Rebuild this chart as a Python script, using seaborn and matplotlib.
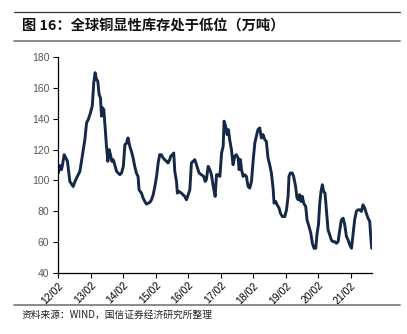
import matplotlib
matplotlib.use("Agg")
import matplotlib.pyplot as plt
from matplotlib.lines import Line2D
import seaborn as sns
import pandas as pd

dates = [
    "2012-02-01", "2012-02-19", "2012-03-08", "2012-03-19", "2012-04-07", "2012-04-26", "2012-05-14", "2012-05-29",
    "2012-06-10", "2012-06-28", "2012-07-17", "2012-08-05", "2012-08-24", "2012-09-12", "2012-10-01", "2012-10-19",
    "2012-11-08", "2012-11-26", "2012-12-15", "2013-01-03", "2013-01-22", "2013-02-17", "2013-03-06", "2013-03-21",
    "2013-04-05", "2013-04-20", "2013-05-05", "2013-05-20", "2013-06-01", "2013-06-12", "2013-06-27", "2013-07-12",
    "2013-07-27", "2013-08-11", "2013-08-26", "2013-09-10", "2013-09-25", "2013-10-10", "2013-10-28", "2013-11-17",
    "2013-12-05", "2013-12-24", "2014-01-12", "2014-02-01", "2014-02-19", "2014-03-08", "2014-03-26", "2014-04-15",
    "2014-05-03", "2014-05-22", "2014-06-10", "2014-06-28", "2014-07-17", "2014-07-28", "2014-08-24", "2014-09-12",
    "2014-10-01", "2014-10-19", "2014-11-08", "2014-11-26", "2014-12-15", "2015-01-03", "2015-01-22", "2015-02-10",
    "2015-02-28", "2015-03-17", "2015-04-05", "2015-04-24", "2015-05-12", "2015-06-01", "2015-06-19", "2015-07-08",
    "2015-07-19", "2015-08-07", "2015-08-22", "2015-09-03", "2015-09-22", "2015-10-02", "2015-10-21", "2015-11-17",
    "2015-12-05", "2015-12-24", "2016-01-12", "2016-02-01", "2016-02-19", "2016-03-08", "2016-03-26", "2016-04-15",
    "2016-05-03", "2016-06-02", "2016-06-27", "2016-07-24", "2016-08-09", "2016-08-23", "2016-09-12", "2016-10-01",
    "2016-10-19", "2016-11-08", "2016-11-30", "2016-12-15", "2017-01-03", "2017-01-22", "2017-02-10", "2017-02-28",
    "2017-03-10", "2017-03-28", "2017-04-13", "2017-04-28", "2017-05-12", "2017-06-01", "2017-06-19", "2017-07-08",
    "2017-07-26", "2017-08-15", "2017-08-26", "2017-09-10", "2017-09-22", "2017-10-10", "2017-10-28", "2017-11-16",
    "2017-12-05", "2017-12-24", "2018-01-12", "2018-02-01", "2018-02-19", "2018-03-08", "2018-03-26", "2018-04-15",
    "2018-05-03", "2018-05-22", "2018-06-10", "2018-06-28", "2018-07-17", "2018-08-05", "2018-08-24", "2018-09-12",
    "2018-09-23", "2018-10-12", "2018-10-27", "2018-11-19", "2018-12-03", "2018-12-26", "2019-01-22", "2019-02-10",
    "2019-02-28", "2019-03-10", "2019-03-25", "2019-04-16", "2019-05-01", "2019-05-23", "2019-06-08", "2019-06-23",
    "2019-07-08", "2019-07-22", "2019-08-07", "2019-08-22", "2019-09-14", "2019-09-29", "2019-10-21", "2019-11-10",
    "2019-11-28", "2019-12-16", "2020-01-05", "2020-01-20", "2020-02-04", "2020-02-19", "2020-03-04", "2020-03-19",
    "2020-04-03", "2020-04-18", "2020-05-03", "2020-05-22", "2020-06-10", "2020-06-28", "2020-07-16", "2020-08-05",
    "2020-08-24", "2020-09-12", "2020-10-01", "2020-10-19", "2020-11-08", "2020-11-26", "2020-12-15", "2021-01-03",
    "2021-01-22", "2021-02-10", "2021-02-28", "2021-03-17", "2021-04-05", "2021-04-24", "2021-05-12", "2021-06-01",
    "2021-06-19", "2021-07-08", "2021-07-26", "2021-08-15", "2021-09-03", "2021-09-14", "2021-09-25",
]
inventory = [
    104.8, 109.6, 107.0, 110.0, 116.7, 114.6, 112.4, 104.8,
    99.3, 97.8, 96.0, 99.0, 101.5, 103.7, 105.9, 112.4,
    120.0, 126.5, 137.4, 139.6, 142.8, 148.3, 163.5, 170.0,
    165.7, 164.6, 155.9, 153.7, 141.7, 147.2, 146.0, 134.0,
    122.2, 112.4, 120.0, 116.7, 112.4, 113.5, 110.2, 105.9,
    104.8, 103.7, 104.8, 109.0, 123.3, 124.0, 127.6, 122.2,
    118.9, 114.6, 109.1, 104.8, 102.6, 93.9, 91.7, 88.5,
    86.3, 84.6, 85.2, 85.7, 87.4, 90.7, 96.1, 102.6,
    111.3, 116.7, 116.7, 114.6, 113.5, 112.4, 111.3, 113.5,
    115.7, 116.7, 117.8, 105.9, 99.3, 91.7, 92.8, 91.7,
    90.7, 89.6, 87.4, 90.7, 93.9, 111.3, 112.4, 113.5,
    110.2, 104.8, 103.7, 102.6, 99.3, 100.4, 109.1, 107.0,
    103.7, 96.1, 89.6, 103.7, 103.7, 102.6, 117.8, 122.2,
    138.5, 135.2, 129.8, 133.0, 126.5, 120.0, 110.2, 115.7,
    116.7, 114.6, 107.0, 113.5, 107.0, 102.6, 103.7, 102.6,
    96.1, 95.0, 99.3, 113.5, 124.3, 128.7, 133.0, 134.1,
    127.6, 129.8, 126.5, 125.4, 114.6, 110.2, 104.8, 95.0,
    85.2, 86.3, 84.1, 82.0, 78.7, 76.5, 76.5, 80.9,
    89.6, 102.6, 104.8, 104.8, 102.6, 96.1, 88.5, 87.4,
    90.7, 86.3, 89.6, 85.2, 83.0, 74.3, 70.0, 65.7,
    59.1, 55.9, 55.9, 65.7, 71.1, 85.2, 92.8, 97.2,
    92.8, 91.7, 80.9, 67.8, 64.6, 61.3, 60.2, 60.2,
    59.1, 60.2, 67.8, 74.3, 75.4, 71.1, 63.5, 61.3,
    58.0, 55.9, 65.7, 74.3, 79.8, 80.9, 80.9, 79.8,
    84.1, 82.0, 78.7, 75.4, 73.3, 63.5, 55.9,
]
tick_dates = ["2012-02-01", "2013-02-01", "2014-02-01", "2015-02-01", "2016-02-01",
              "2017-02-01", "2018-02-01", "2019-02-01", "2020-02-01", "2021-02-01"]
tick_labels = ["12/02", "13/02", "14/02", "15/02", "16/02", "17/02", "18/02", "19/02", "20/02", "21/02"]
y_ticks = [40, 60, 80, 100, 120, 140, 160, 180]

title = "图 16：全球铜显性库存处于低位（万吨）"
source = "资料来源：WIND，国信证券经济研究所整理"

sns.set_style("ticks")
plt.rcParams["font.family"] = ["Liberation Sans", "Noto Sans CJK SC", "DejaVu Sans"]

df = pd.DataFrame({"date": pd.to_datetime(dates), "value": inventory})

fig = plt.figure(figsize=(4.07, 3.34), dpi=100)
ax = fig.add_axes([0.1432, 0.1835, 0.7701, 0.6449])
sns.lineplot(data=df, x="date", y="value", ax=ax, color="#142947", linewidth=2.1)

ax.set_xlim(pd.Timestamp("2012-02-01"), pd.Timestamp("2021-09-25"))
ax.set_ylim(40, 180)
ax.set_yticks(y_ticks)
ax.set_yticklabels([str(v) for v in y_ticks])
ax.set_xticks(pd.to_datetime(tick_dates))
ax.set_xticklabels(tick_labels, rotation=45, ha="right", rotation_mode="anchor")
ax.set_xlabel("")
ax.set_ylabel("")
for s in ["top", "right"]:
    ax.spines[s].set_visible(False)
for s in ["left", "bottom"]:
    ax.spines[s].set_color("black")
    ax.spines[s].set_linewidth(0.9)
ax.tick_params(axis="y", labelsize=7.5, labelcolor="#595959", color="black", length=3.5, width=0.8, pad=3)
ax.tick_params(axis="x", labelsize=7.5, labelcolor="black", color="black", length=3.5, width=0.8, pad=2)

# header / footer rules
fig.add_artist(Line2D([14 / 407, 400 / 407], [1 - 12 / 334, 1 - 12 / 334], color="#333333", linewidth=0.9))
fig.add_artist(Line2D([14 / 407, 400 / 407], [1 - 41 / 334, 1 - 41 / 334], color="#8a8a8a", linewidth=1.4))
fig.add_artist(Line2D([14 / 407, 400 / 407], [1 - 305 / 334, 1 - 305 / 334], color="#8a8a8a", linewidth=1.4))

fig.text(22 / 407, 1 - 26 / 334, title, fontsize=10.3, fontweight="bold", va="center", ha="left",
         family=["Noto Sans CJK SC", "DejaVu Sans"], color="#111111")
fig.text(22 / 407, 1 - 314.5 / 334, source, fontsize=7, va="center", ha="left",
         family=["Noto Sans CJK SC", "DejaVu Sans"], color="#222222")

fig.savefig("out.png", dpi=100)
